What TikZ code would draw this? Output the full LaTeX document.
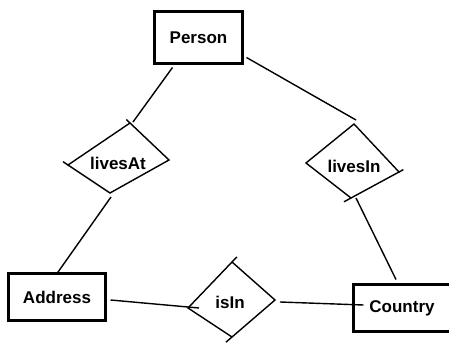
\documentclass[tikz,border=0pt]{standalone}
\usepackage{fontspec}
\setmainfont{Liberation Sans}
\usepackage{xcolor}
\usepackage{tikz}
\usetikzlibrary{calc}
\tikzset{
    entity/.style={draw, line width=3pt, minimum width=#1, minimum height=47pt,
    font=\fontsize{17}{20}\selectfont\bfseries, inner sep=0pt, outer sep=0pt},
    rellabel/.style={font=\fontsize{17}{20}\selectfont\bfseries, inner sep=0pt},
    edge/.style={line width=1.4pt},
}

\begin{document}
\begin{tikzpicture}[x=1pt, y=-1pt, line join=miter]
            \useasboundingbox (0,0) rectangle (449,344);
            \clip (0,0) rectangle (449,344);
            % entities
            \node[entity=88pt, minimum height=52pt] (person) at (198.5,37.5) {Person};
            \node[entity=97pt] (address) at (57,297) {Address};
            \node[entity=97pt] (country) at (402,308) {Country};
            % relationship livesAt
            \coordinate (at-t) at (130,123);
            \coordinate (at-r) at (169,160);
            \coordinate (at-b) at (110,193);
            \coordinate (at-l) at (68,165);
            \draw[edge] (at-t) -- (at-r) -- (at-b) -- (at-l) -- cycle;
            \node[rellabel] (livesat) at (118,163) {livesAt};
            % relationship livesIn
            \coordinate (in-t) at (354,124);
            \coordinate (in-r) at (399,172);
            \coordinate (in-b) at (351,198);
            \coordinate (in-l) at (306,163);
            \draw[edge] (in-t) -- (in-r) -- (in-b) -- (in-l) -- cycle;
            \node[rellabel] (livesin) at (354,166) {livesIn};
            % relationship isIn
            \coordinate (is-t) at (232,262);
            \coordinate (is-r) at (275,300);
            \coordinate (is-b) at (232,337);
            \coordinate (is-l) at (188,308);
            \draw[edge] (is-t) -- (is-r) -- (is-b) -- (is-l) -- cycle;
            \node[rellabel] (isin) at (230,302) {isIn};
            % ticks
            \draw[edge] (at-t) -- ($(at-t)!-5pt!(at-r)$);
            \draw[edge] (at-l) -- ($(at-l)!-6pt!(at-b)$);
            \draw[edge] (in-r) -- ($(in-r)!-5pt!(in-b)$);
            \draw[edge] (in-b) -- ($(in-b)!-8pt!(in-r)$);
            \draw[edge] (is-t) -- ($(is-t)!-7pt!(is-l)$);
            \draw[edge] (is-b) -- ($(is-b)!-8pt!(is-r)$);
            % connectors
            \draw[edge] ([xshift=-26pt, yshift=-4pt]person.south) -- ([xshift=3pt, yshift=1pt]at-t);
            \draw[edge] ([xshift=4pt, yshift=6pt]person.south east) -- ([xshift=2pt, yshift=4pt]in-t);
            \draw[edge] ([xshift=1pt, yshift=-4pt]at-b) -- (address.north);
            \draw[edge] ([xshift=5pt, yshift=0pt]in-b) -- ([xshift=-6pt, yshift=5pt]country.north);
            \draw[edge] ([xshift=5pt, yshift=-3pt]address.east) -- ([xshift=11pt]is-l);
            \draw[edge] ([xshift=5pt, yshift=-2pt]is-r) -- ([xshift=10pt, yshift=3pt]country.west);
        \end{tikzpicture}
\end{document}
